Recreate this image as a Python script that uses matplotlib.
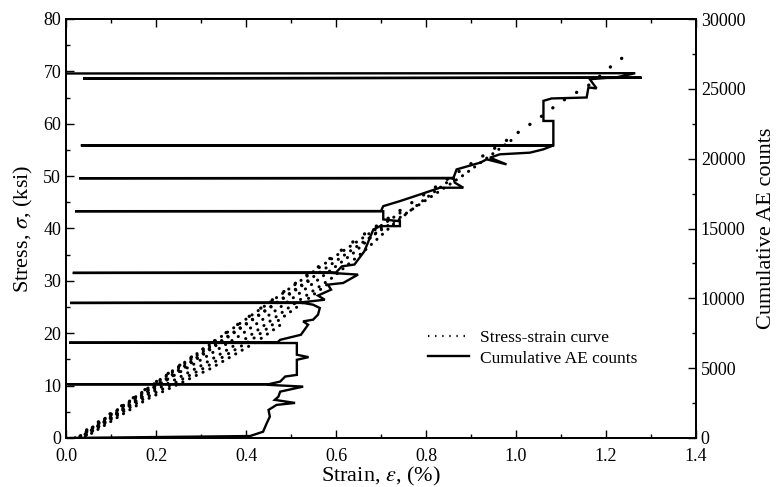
import matplotlib
matplotlib.use("Agg")
import matplotlib.pyplot as plt
from matplotlib.lines import Line2D
from matplotlib.ticker import MultipleLocator

plt.rcParams['font.family'] = ['Liberation Serif', 'DejaVu Serif']
plt.rcParams['mathtext.fontset'] = 'stix'

# ---- Stress-strain (dotted) curves of the load cycles: strain (%), stress (ksi) ----
# upper band (loading branches)
u1_eps = [0.02, 0.18, 0.42, 0.65, 0.87, 0.97, 1.05, 1.10, 1.17, 1.20, 1.255]
u1_sig = [0.0, 9.5, 24.0, 38.2, 50.7, 56.3, 61.0, 64.2, 67.8, 70.2, 73.8]
u2_eps = [0.03, 0.19, 0.43, 0.66, 0.88, 1.00]
u2_sig = [0.0, 9.4, 23.6, 37.4, 50.0, 57.5]
u3_eps = [0.025, 0.185, 0.425, 0.60, 0.75]
u3_sig = [0.0, 9.7, 24.2, 34.8, 43.4]
u4_eps = [0.035, 0.20, 0.44, 0.54]
u4_sig = [0.0, 9.6, 24.1, 30.0]
u5_eps = [0.028, 0.19, 0.34]
u5_sig = [0.0, 9.9, 18.6]
# lower band (unloading branches)
l1_eps = [0.03, 0.17, 0.30, 0.40, 0.50, 0.59, 0.66, 0.73, 0.80, 0.87]
l1_sig = [0.0, 7.8, 13.8, 19.0, 25.2, 30.5, 35.5, 41.0, 45.8, 50.3]
l2_eps = [0.025, 0.16, 0.29, 0.38, 0.47, 0.56, 0.64, 0.71]
l2_sig = [0.0, 8.0, 14.4, 19.2, 24.6, 30.2, 35.4, 40.8]
l3_eps = [0.035, 0.175, 0.31, 0.41, 0.51, 0.58]
l3_sig = [0.0, 7.6, 13.5, 18.6, 24.8, 29.3]
l4_eps = [0.04, 0.18, 0.32, 0.42, 0.48]
l4_sig = [0.0, 7.4, 13.2, 18.2, 21.8]

# ---- Cumulative AE counts vs strain ----
ae_eps = [0.0, 0.409, 0.438, 0.446, 0.453, 0.450, 0.468, 0.509, 0.464, 0.472,
          0.476, 0.527, 0.453, 0.446, 0.003, 0.450, 0.476, 0.487, 0.513, 0.513,
          0.539, 0.513, 0.513, 0.007, 0.470, 0.476, 0.522, 0.538, 0.527, 0.549,
          0.560, 0.564, 0.549, 0.527, 0.009, 0.520, 0.575, 0.560, 0.589, 0.582,
          0.616, 0.649, 0.589, 0.015, 0.600, 0.613, 0.641, 0.663, 0.683, 0.698,
          0.742, 0.742, 0.705, 0.705, 0.020, 0.700, 0.705, 0.742, 0.787, 0.831,
          0.883, 0.864, 0.861, 0.029, 0.861, 0.868, 0.920, 0.935, 0.979, 0.942,
          0.964, 1.031, 1.061, 1.083, 0.033, 1.083, 1.083, 1.061, 1.061, 1.079,
          1.157, 1.161, 1.179, 1.164, 1.202, 1.279, 0.038, 1.220, 1.265, 0.0]
ae_cnt = [0, 140, 450, 1055, 1530, 2010, 2370, 2510, 2730, 2960,
          3320, 3680, 3800, 3850, 3850, 3850, 4040, 4400, 4520, 5600,
          5790, 5960, 6800, 6820, 6850, 7030, 7390, 8110, 8350, 8470,
          8830, 9310, 9545, 9670, 9670, 9700, 9900, 10200, 10620, 10980,
          11100, 11700, 11820, 11820, 11850, 12290, 12420, 13370, 14930, 15170,
          15170, 15520, 15650, 16240, 16240, 16250, 16600, 16960, 17440, 17920,
          17920, 18280, 18600, 18600, 18620, 19230, 19710, 19950, 19590, 20070,
          20310, 20430, 20670, 20950, 20950, 20960, 22700, 22700, 24140, 24310,
          24380, 25100, 25030, 25690, 25780, 25800, 25750, 25800, 26120, 26100]

x_ticks = [0.0, 0.2, 0.4, 0.6, 0.8, 1.0, 1.2, 1.4]
y_ticks = [0, 10, 20, 30, 40, 50, 60, 70, 80]
y2_ticks = [0, 5000, 10000, 15000, 20000, 25000, 30000]

fig = plt.figure(figsize=(7.84, 4.87), dpi=100)
ax = fig.add_axes([66/784, 1-438/487, 630/784, 419/487])
ax2 = ax.twinx()

# main envelope: sparse dots
ax.plot(u1_eps, u1_sig, color='black', lw=2.4, linestyle=(0, (0.05, 4.2)),
        dash_capstyle='round')
band = [(u2_eps, u2_sig), (u3_eps, u3_sig), (u4_eps, u4_sig), (u5_eps, u5_sig),
        (l1_eps, l1_sig), (l2_eps, l2_sig), (l3_eps, l3_sig), (l4_eps, l4_sig)]
phases = [0.0, 1.1, 0.6, 1.7, 0.3, 1.4, 0.9, 2.0]
for (e, s), ph in zip(band, phases):
    ax.plot(e, s, color='black', lw=2.2, linestyle=(ph, (0.05, 2.4)),
            dash_capstyle='round')

ax2.plot(ae_eps, ae_cnt, color='black', lw=1.7, solid_joinstyle='miter')

ax.set_xlim(0, 1.4)
ax.set_ylim(0, 80)
ax2.set_ylim(0, 30000)
ax.set_xticks(x_ticks)
ax.set_xticklabels([f"{v:.1f}" for v in x_ticks])
ax.set_yticks(y_ticks)
ax2.set_yticks(y2_ticks)
ax.xaxis.set_minor_locator(MultipleLocator(0.1))
ax.yaxis.set_minor_locator(MultipleLocator(5))
ax2.yaxis.set_minor_locator(MultipleLocator(2500))

ax.tick_params(axis='both', which='both', direction='in', top=True,
               right=False, labelsize=13, width=1.0)
ax.tick_params(which='major', length=6)
ax.tick_params(which='minor', length=3)
ax2.tick_params(axis='y', which='both', direction='in', labelsize=13, width=1.0)
ax2.tick_params(which='major', length=6)
ax2.tick_params(which='minor', length=3)
ax.tick_params(axis='x', pad=7)

for a in (ax, ax2):
    for sp in a.spines.values():
        sp.set_linewidth(1.3)

ax.set_xlabel(r'Strain, $\epsilon$, (%)', fontsize=16, labelpad=0)
ax.set_ylabel(r'Stress, $\sigma$, (ksi)', fontsize=16, labelpad=6)
ax2.set_ylabel('Cumulative AE counts', fontsize=16, labelpad=8)

h1 = Line2D([], [], color='black', lw=1.6, linestyle=(0, (0.6, 2.6)))
h2 = Line2D([], [], color='black', lw=1.7)
leg = ax2.legend([h1, h2], ['Stress-strain curve', 'Cumulative AE counts'],
                 loc='upper left', bbox_to_anchor=(0.574, 0.258), frameon=False,
                 fontsize=12.5, handlelength=2.4, handletextpad=0.6,
                 borderpad=0, borderaxespad=0, labelspacing=0.25)

fig.savefig('out.png', dpi=100)
